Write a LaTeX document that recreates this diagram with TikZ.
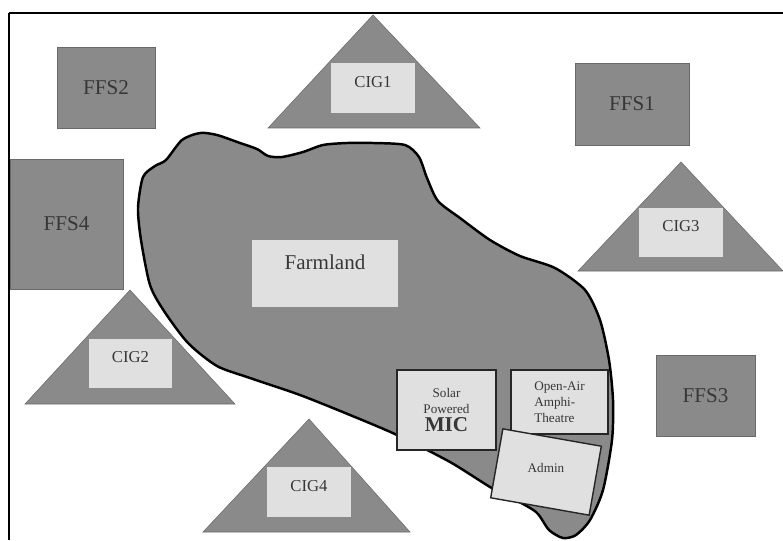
\documentclass[tikz,border=0pt]{standalone}
\usepackage{fontspec}
\setmainfont{Liberation Serif}
\usetikzlibrary{positioning}

\definecolor{sitegray}{RGB}{138,138,138}
\definecolor{edgegray}{RGB}{105,105,105}
\definecolor{padlight}{RGB}{224,224,224}
\definecolor{inkgray}{RGB}{55,55,55}

\begin{document}
\begin{tikzpicture}[
    x=0.02cm, y=-0.02cm,
    every node/.style={font=\rmfamily, text=inkgray},
    ffsbox/.style={
        rectangle, fill=sitegray, draw=edgegray, line width=0.5pt,
        font=\fontsize{12}{14}\selectfont
    },
    cigpad/.style={
        rectangle, fill=padlight, minimum width=1.67cm, minimum height=1.0cm,
        text depth=7pt, font=\fontsize{9.5}{11}\selectfont
    },
    cigtri/.style={fill=sitegray, draw=edgegray, line width=0.3pt},
    facbox/.style={
        rectangle, fill=padlight, draw=black!85, line width=0.8pt,
        font=\fontsize{7.5}{9}\selectfont
    }
]
\useasboundingbox (0,0) rectangle (783,540);

%% ── Frame ──────────────────────────────────────────────────────────
\draw[black, line width=1pt] (9,13) -- (783,13);
\draw[black, line width=0.6pt] (9,13) -- (9,540);

%% ── Common infrastructure groups (triangles) ──────────────────────
\fill[cigtri] (268,128) -- (373,15) -- (480,128) -- cycle;
\fill[cigtri] (578,271) -- (681,162) -- (783,271) -- cycle;
\fill[cigtri] (25,404) -- (130,290) -- (235,404) -- cycle;
\fill[cigtri] (203,532) -- (309,419) -- (410,532) -- cycle;

%% ── Farmland outline ───────────────────────────────────────────────
\draw[black, line width=1.4pt, fill=sitegray]
    plot[smooth cycle, tension=0.45] coordinates {
      (143,177) (155,166) (166,160) (182,140) (200,133) (217,135)
      (240,143) (257,149) (268,156) (282,157) (303,152) (323,145)
      (347,143) (373,143) (405,145) (419,157) (427,178) (438,201)
      (460,218) (490,240) (520,256) (555,268) (585,290) (600,320)
      (609,360) (613,400) (612,440) (603,490) (590,520) (576,535)
      (563,538) (549,530) (536,512) (510,497) (490,487) (450,462)
      (397,435) (350,415) (300,395) (250,378) (217,366) (188,343)
      (164,311) (150,285) (141,240) (138,208)};

%% ── Farm field schools ─────────────────────────────────────────────
\node[ffsbox, minimum width=1.96cm, minimum height=1.62cm]
    (ffs2) at (106,87.5) {FFS2};
\node[ffsbox, minimum width=2.26cm, minimum height=2.60cm]
    (ffs4) at (66.5,224) {FFS4};
\node[ffsbox, minimum width=2.28cm, minimum height=1.64cm]
    (ffs1) at (632,104) {FFS1};
\node[ffsbox, minimum width=1.98cm, minimum height=1.62cm]
    (ffs3) at (705.5,395.5) {FFS3};

%% ── Group pads inside the triangles ────────────────────────────────
\node[cigpad] (cig1) at (373,88)    {CIG1};
\node[cigpad] (cig3) at (681,232.5) {CIG3};
\node[cigpad] (cig2) at (130.5,363.5) {CIG2};
\node[cigpad] (cig4) at (309,492)   {CIG4};

%% ── Farmland and facilities ────────────────────────────────────────
\node[rectangle, fill=padlight, minimum width=2.92cm, minimum height=1.34cm,
      text depth=13pt, font=\fontsize{12}{14}\selectfont]
    (farm) at (325,273.5) {Farmland};

\node[facbox, minimum width=1.98cm, minimum height=1.60cm, align=center]
    (mic) at (446.5,410)
    {Solar\\Powered\\[1pt]{\fontsize{12}{13}\selectfont\bfseries MIC}};
\node[facbox, minimum width=1.94cm, minimum height=1.28cm, align=left]
    (theatre) at (559.5,402) {Open-Air\\Amphi-\\Theatre};
\node[facbox, minimum width=2.0cm, minimum height=1.4cm, rotate=-10,
      label={[font=\fontsize{7.5}{9}\selectfont, text=inkgray,
              yshift=0.08cm]center:Admin}]
    (admin) at (546,472) {};

\end{tikzpicture}
\end{document}
